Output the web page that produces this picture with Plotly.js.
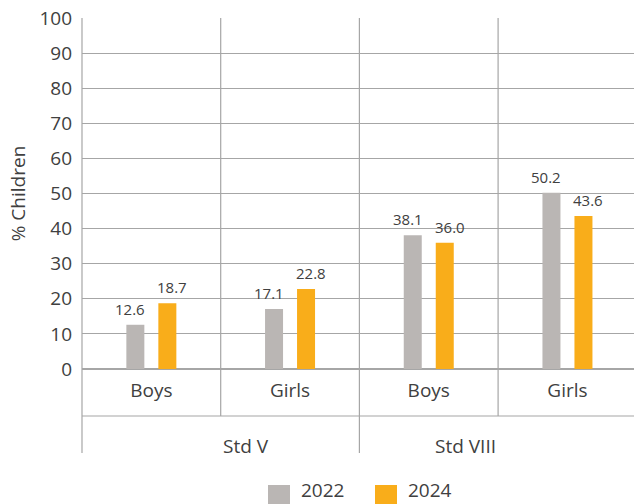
<!DOCTYPE html>
<html><head><meta charset="utf-8">
<script src="https://cdn.plot.ly/plotly-3.0.1.min.js"></script>
<style>body{margin:0;background:#fff}</style></head>
<body><div id="chart" style="width:634px;height:504px"></div>
<script>
const subCategories = ['Boys', 'Girls', 'Boys', 'Girls'];
const groupLabels = ['Std V', 'Std VIII'];
const groupStarts = [0, 2];
const groupEnds = [2, 4];
const seriesNames = ['2022', '2024'];
const values2022 = [12.6, 17.1, 38.1, 50.2];
const values2024 = [18.7, 22.8, 36.0, 43.6];
const yTickValues = [0, 10, 20, 30, 40, 50, 60, 70, 80, 90, 100];
const yAxisTitle = '% Children';

const colors = ['#BAB6B4', '#F9AD1A'];
const textColor = '#404040';
const lineColor = '#A6A6A6';
const fontFamily = '"Open Sans", "Noto Sans", sans-serif';

// layout geometry (pixels)
const W = 634, H = 504;
const mL = 82, mT = 18, mR = 0, mB = 135;
const plotW = W - mL - mR, plotH = H - mT - mB;
const catPx = 138.7;
const xMax = plotW / catPx;
const px2x = px => (px - mL) / plotW;
const px2y = py => (H - mB - py) / plotH;

const xPos = subCategories.map((_, i) => i + 0.5);
const barW = 18 / catPx;
const offsets = [-16 / catPx - barW / 2, 16 / catPx - barW / 2];
const seriesValues = [values2022, values2024];

const traces = seriesValues.map((vals, s) => ({
  type: 'bar', x: xPos, y: vals, name: seriesNames[s],
  width: barW, offset: offsets[s],
  marker: {color: colors[s]}, hoverinfo: 'skip', showlegend: false
}));

const annotations = [];
seriesValues.forEach((vals, s) => {
  vals.forEach((v, i) => {
    annotations.push({
      x: xPos[i] + offsets[s] + barW / 2, y: v, xref: 'x', yref: 'y',
      text: v.toFixed(1), showarrow: false, yanchor: 'bottom',
      yshift: 4, xshift: s === 0 ? -5 : 5,
      font: {family: fontFamily, size: 15, color: textColor}
    });
  });
});

groupLabels.forEach((g, k) => {
  annotations.push({
    x: px2x(mL + (groupStarts[k] + groupEnds[k]) / 2 * catPx), y: px2y(446),
    xref: 'paper', yref: 'paper', text: g, showarrow: false,
    yanchor: 'middle', font: {family: fontFamily, size: 19, color: textColor}
  });
});

const shapes = [];
// horizontal divider under sub-category labels
shapes.push({type: 'line', xref: 'paper', yref: 'paper', x0: 0, x1: 1.01,
  y0: px2y(416), y1: px2y(416), line: {color: lineColor, width: 1.2}});
// vertical dividers
for (let b = 0; b <= subCategories.length; b++) {
  const isGroupEdge = groupStarts.includes(b) || groupEnds.includes(b);
  const xp = (b) / xMax;
  if (xp > 1) continue;
  shapes.push({type: 'line', xref: 'paper', yref: 'paper', x0: xp, x1: xp,
    y0: 1, y1: px2y(isGroupEdge ? 453 : 416), line: {color: lineColor, width: 1.2}});
}
// legend
const legendX = [268, 375];
seriesNames.forEach((n, s) => {
  shapes.push({type: 'rect', xref: 'paper', yref: 'paper',
    x0: px2x(legendX[s]), x1: px2x(legendX[s] + 22), y0: px2y(485), y1: px2y(506),
    fillcolor: colors[s], line: {width: 0}});
  annotations.push({x: px2x(legendX[s] + 31), y: px2y(490), xref: 'paper', yref: 'paper',
    text: n, showarrow: false, xanchor: 'left', yanchor: 'middle',
    font: {family: fontFamily, size: 19, color: textColor}});
});

const layout = {
  width: W, height: H,
  margin: {l: mL, r: mR, t: mT, b: mB, pad: 0},
  paper_bgcolor: '#fff', plot_bgcolor: '#fff',
  font: {family: fontFamily, color: textColor, size: 19},
  showlegend: false,
  barmode: 'overlay',
  xaxis: {range: [0, xMax], tickvals: xPos, ticktext: subCategories,
    showgrid: false, zeroline: false, showline: false, ticks: '',
    ticklabelstandoff: 8, fixedrange: true,
    tickfont: {family: fontFamily, size: 19, color: textColor}},
  yaxis: {range: [0, 100], tickvals: yTickValues, showgrid: true,
    gridcolor: lineColor, gridwidth: 1.2, zeroline: true, zerolinecolor: lineColor,
    zerolinewidth: 1.2, showline: false, ticks: '', ticklabelstandoff: 9,
    tickfont: {family: fontFamily, size: 19, color: textColor},
    title: {text: yAxisTitle, standoff: 8, font: {family: fontFamily, size: 19, color: textColor}},
    fixedrange: true},
  shapes: shapes,
  annotations: annotations
};

Plotly.newPlot('chart', traces, layout, {displayModeBar: false, staticPlot: true});
</script></body></html>
